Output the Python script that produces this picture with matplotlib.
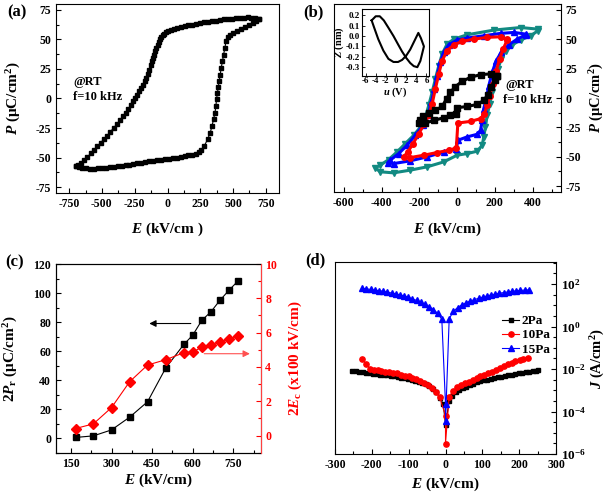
import numpy as np
import matplotlib
matplotlib.use("Agg")
import matplotlib.pyplot as plt
from matplotlib.ticker import MultipleLocator, FixedLocator, NullFormatter

plt.rcParams['font.family'] = ['Liberation Serif', 'DejaVu Serif']
plt.rcParams['font.weight'] = 'bold'
plt.rcParams['axes.labelweight'] = 'bold'
plt.rcParams['mathtext.fontset'] = 'custom'
plt.rcParams['mathtext.rm'] = 'Liberation Serif:bold'
plt.rcParams['mathtext.it'] = 'Liberation Serif:italic:bold'
plt.rcParams['mathtext.bf'] = 'Liberation Serif:bold'
plt.rcParams['axes.linewidth'] = 0.8
plt.rcParams['axes.unicode_minus'] = False

# ---- (a) P-E loop ----
a_up_E = [698, 670, 640, 610, 580, 550, 520, 490, 460, 430, 400, 370, 340, 310, 280, 250, 220, 190,
          160, 130, 100, 75, 50, 25, 5, -12, -25, -36, -48, -58, -66, -75, -85, -96, -105, -112, -118,
          -127, -138, -150, -163, -175, -188, -200, -214, -230, -245, -262, -280, -300, -320, -340,
          -362, -385, -410, -435, -460, -485, -510, -535, -560, -585, -610, -635, -660, -680, -695]
a_up_P = [67.0, 68.0, 68.5, 68.6, 68.5, 68.3, 68.0, 67.7, 67.3, 66.9, 66.5, 66.0, 65.5, 65.0, 64.4,
          63.8, 63.2, 62.6, 61.9, 61.2, 60.5, 59.8, 59.2, 58.3, 57.2, 56.0, 55.0, 54.0, 52.0, 50.0,
          48.0, 45.5, 42.7, 39.8, 37.0, 34.2, 31.4, 28.0, 24.4, 21.0, 17.4, 14.5, 11.7, 9.0, 6.1, 3.0,
          0.5, -2.5, -5.8, -9.0, -12.0, -15.0, -18.5, -21.5, -25.0, -28.0, -31.5, -34.5, -37.5, -40.5,
          -43.5, -46.5, -49.5, -52.0, -54.5, -56.2, -57.5]
a_lo_E = [-695, -675, -650, -620, -590, -560, -530, -500, -470, -440, -410, -380, -350, -320, -290,
          -260, -230, -200, -170, -140, -110, -80, -50, -20, 10, 40, 70, 100, 130, 160, 190, 215, 238,
          255, 280, 306, 326, 339, 351, 362, 369, 374, 381, 387, 394, 402, 409, 419, 427, 438, 445,
          458, 475, 500, 530, 560, 590, 620, 650, 675, 698]
a_lo_P = [-57.5, -58.3, -58.8, -59.1, -59.3, -59.3, -59.1, -58.9, -58.6, -58.2, -57.9, -57.5, -57.1,
          -56.6, -56.1, -55.5, -55.0, -54.4, -53.8, -53.2, -52.6, -52.1, -51.7, -51.4, -51.1, -50.6,
          -50.0, -49.4, -48.8, -48.2, -47.6, -46.8, -45.5, -44.0, -40.2, -34.5, -28.9, -23.3, -17.7,
          -12.0, -6.5, -0.3, 4.8, 9.8, 14.6, 20.2, 25.8, 31.4, 37.0, 42.7, 48.3, 51.8, 54.0, 55.4,
          57.0, 58.6, 60.4, 62.2, 64.0, 65.5, 67.0]

# ---- (b) P-E loops at several fields ----
teal_E = [428, 336, 195, 53, -17, -53, -79, -97, -115, -132, -150, -168, -194, -230, -274, -318,
          -362, -407, -433, -407, -336, -248, -159, -71, 0, 53, 106, 133, 141, 150, 159, 173, 186,
          200, 216, 234, 257, 292, 336, 389, 428]
teal_P = [58.6, 60.0, 57.8, 53.8, 50.1, 45.9, 37.4, 27.5, 16.2, 4.9, -6.3, -16.2, -24.7, -31.8,
          -38.8, -45.9, -52.4, -57.2, -59.4, -62.8, -63.7, -61.4, -58.6, -54.4, -48.7, -47.3, -45.3,
          -40.2, -33.1, -24.7, -14.8, -4.9, 5.0, 14.9, 24.8, 33.2, 40.3, 45.3, 49.3, 53.0, 57.2]
blue_E = [363, 301, 230, 142, 53, 0, -44, -71, -88, -106, -120, -136, -154, -180, -221, -265, -309,
          -354, -368, -336, -248, -159, -71, -4, 4, 53, 106, 124, 133, 141, 154, 168, 186, 207, 234,
          274, 318, 363]
blue_P = [54.4, 55.8, 55.0, 53.0, 51.0, 49.3, 45.3, 39.0, 30.4, 19.1, 7.8, -3.4, -14.8, -23.2,
          -31.7, -40.2, -47.3, -52.9, -55.2, -55.8, -53.5, -50.1, -45.9, -43.1, -36.0, -33.1, -30.9,
          -27.5, -19.0, -9.1, -0.7, 10.6, 21.9, 31.8, 38.9, 45.3, 50.1, 53.8]
red_E = [265, 230, 159, 88, 27, -17, -53, -79, -97, -115, -132, -150, -173, -203, -233, -261, -283,
         -248, -177, -106, -44, -4, 4, 71, 124, 145, 159, 173, 189, 207, 225, 244, 265]
red_P = [50.1, 52.1, 51.6, 50.1, 48.2, 45.3, 40.3, 31.8, 20.5, 7.8, -4.9, -14.8, -21.9, -30.4,
         -38.8, -45.9, -50.1, -50.7, -48.7, -46.4, -44.5, -42.5, -21.3, -19.9, -17.6, -13.4, -6.3,
         2.1, 12.0, 23.3, 33.2, 41.7, 49.3]
black_E = [212, 177, 124, 71, 27, -9, -35, -56, -79, -115, -150, -180, -198, -201, -168, -124, -71,
           -35, -7, 0, 53, 106, 141, 163, 180, 198, 212]
black_P = [19.1, 20.5, 19.9, 17.6, 14.2, 9.7, 4.9, -0.7, -7.2, -10.6, -12.8, -15.7, -19.1, -21.3,
           -21.3, -19.1, -16.8, -14.8, -13.4, -8.3, -7.2, -5.5, -2.1, 2.9, 9.2, 14.9, 19.1]

# inset Z-u loop
ins_u = [-4.8, -4.0, -3.2, -2.4, -1.5, -0.5, 0.4, 1.2, 2.0, 2.8, 3.5, 4.2, 4.8, 5.5, 4.9, 4.4, 3.6,
         2.8, 2.0, 1.2, 0.4, -0.5, -1.5, -2.5, -3.5, -4.3, -4.8]
ins_Z = [0.15, 0.19, 0.19, 0.15, 0.08, 0.0, -0.08, -0.15, -0.21, -0.26, -0.29, -0.30, -0.24, -0.10,
         -0.02, 0.03, -0.05, -0.13, -0.19, -0.23, -0.25, -0.25, -0.22, -0.14, -0.03, 0.08, 0.15]

# ---- (c) 2Pr and 2Ec vs E ----
c_E = [167, 233, 300, 367, 433, 500, 567, 600, 633, 667, 700, 733, 767]
c_2Pr = [0.5, 1.6, 5.7, 14.5, 25.1, 48.3, 64.6, 71.0, 81.1, 87.1, 94.9, 101.8, 108.3]
c_2Ec = [0.41, 0.68, 1.63, 3.14, 4.11, 4.42, 4.83, 4.88, 5.14, 5.29, 5.48, 5.62, 5.78]

# ---- (d) J-E ----
d_blue_E = [-226, -215, -203, -192, -180, -169, -158, -146, -135, -124, -112, -101, -90, -78, -67,
            -56, -44, -33, -21, -10, 0, 0, 10, 21, 33, 44, 56, 67, 78, 90, 101, 112, 124, 135, 146,
            158, 169, 180, 192, 203, 215, 227]
d_blue_J = [63, 60, 56, 52, 49, 46, 42, 38, 35, 31, 28, 24, 20, 17, 14, 11, 8.5, 6.3, 4.2, 2.2,
            2.2e-4, 3.4e-5, 2.3, 5.2, 7.9, 10.5, 13.2, 15.8, 18.6, 21.4, 24.5, 27.5, 30.9, 33.9,
            37.2, 39.8, 42.7, 45.7, 47.9, 50.1, 52.5, 53.7]
d_red_E = [-226, -216, -205, -195, -184, -174, -163, -153, -142, -132, -121, -111, -100, -90, -79,
           -69, -58, -48, -37, -27, -16, 0, 0, 10, 21, 32, 42, 53, 64, 74, 85, 95, 105, 116, 127,
           137, 148, 159, 169, 180, 190, 201, 211, 225]
d_red_J = [2.9e-2, 1.8e-2, 1.05e-2, 9.3e-3, 8.7e-3, 8.1e-3, 7.6e-3, 7.1e-3, 6.6e-3, 6.2e-3,
           5.5e-3, 4.9e-3, 4.5e-3, 4.0e-3, 3.3e-3, 2.75e-3, 2.2e-3, 1.75e-3, 1.25e-3, 8.5e-4,
           4.7e-4, 6.5e-5, 3.1e-6, 5.0e-4, 9.5e-4, 1.45e-3, 1.8e-3, 2.25e-3, 2.55e-3, 2.95e-3,
           3.7e-3, 4.5e-3, 5.1e-3, 6.2e-3, 7.6e-3, 9.3e-3, 1.17e-2, 1.4e-2, 1.66e-2, 2.0e-2,
           2.4e-2, 2.6e-2, 2.95e-2, 3.4e-2]
d_black_E = [-253, -243, -234, -224, -215, -205, -196, -186, -177, -167, -158, -148, -139, -129,
             -120, -110, -101, -91, -82, -72, -63, -53, -44, -34, -25, -15, -6, 0, 10, 19, 29, 38,
             48, 57, 67, 76, 86, 95, 105, 114, 124, 133, 143, 152, 162, 171, 181, 190, 200, 209,
             219, 228, 238, 247, 252]
d_black_J = [8.1e-3, 7.7e-3, 7.4e-3, 7.0e-3, 6.7e-3, 6.4e-3, 6.1e-3, 5.8e-3, 5.5e-3, 5.2e-3,
             5.0e-3, 4.7e-3, 4.5e-3, 4.2e-3, 3.9e-3, 3.7e-3, 3.4e-3, 3.1e-3, 2.8e-3, 2.5e-3,
             2.2e-3, 1.9e-3, 1.55e-3, 1.2e-3, 8.5e-4, 4.5e-4, 2.2e-4, 2.4e-5, 3.2e-4, 5.5e-4,
             7.9e-4, 1.0e-3, 1.25e-3, 1.5e-3, 1.75e-3, 2.05e-3, 2.35e-3, 2.6e-3, 2.9e-3, 3.2e-3,
             3.5e-3, 3.8e-3, 4.1e-3, 4.4e-3, 4.8e-3, 5.1e-3, 5.4e-3, 5.8e-3, 6.2e-3, 6.6e-3,
             7.0e-3, 7.4e-3, 7.9e-3, 8.3e-3, 8.7e-3]

TEAL = '#128a82'
tick_fs = 8.5
lab_fs = 11

fig = plt.figure(figsize=(6.09, 4.94), dpi=100)


def style_ax(ax, fs=tick_fs):
    ax.tick_params(which='both', direction='in', labelsize=fs, width=0.8)
    ax.tick_params(which='major', length=3.5)
    ax.tick_params(which='minor', length=2)


def bold_ticks(ax):
    for lab in ax.get_xticklabels() + ax.get_yticklabels():
        lab.set_fontweight('bold')


# (a)
axa = fig.add_axes([56/609, 1-193/494, 223/609, 189/494])
axa.plot(a_up_E, a_up_P, 's-', color='k', ms=3.2, lw=0.8)
axa.plot(a_lo_E, a_lo_P, 's-', color='k', ms=3.2, lw=0.8)
axa.set_xlim(-850, 850)
axa.set_ylim(-80, 80)
axa.xaxis.set_major_locator(FixedLocator([-750, -500, -250, 0, 250, 500, 750]))
axa.xaxis.set_minor_locator(MultipleLocator(125))
axa.yaxis.set_major_locator(MultipleLocator(25))
axa.yaxis.set_minor_locator(MultipleLocator(12.5))
style_ax(axa)
axa.set_xlabel(r"$\mathit{E}$ (kV/cm )", fontsize=lab_fs)
axa.set_ylabel(r"$\mathit{P}$ (μC/cm$^{2}$)", fontsize=lab_fs)
axa.xaxis.set_label_coords(0.5, -0.145)
axa.yaxis.set_label_coords(-0.15, 0.5)
axa.text(0.076, 0.587, "@RT", transform=axa.transAxes, fontsize=9, va='center')
axa.text(0.076, 0.508, "f=10 kHz", transform=axa.transAxes, fontsize=9, va='center')

# (b)
axb = fig.add_axes([334.3/609, 1-192/494, 226.7/609, 188/494])
axb.plot(teal_E, teal_P, 'v-', color=TEAL, ms=4, lw=2.2)
axb.plot(blue_E, blue_P, '^-', color='#0000ff', ms=4, lw=2.2)
axb.plot(red_E, red_P, 'o-', color='#ff0000', ms=4, lw=2.2)
axb.plot(black_E, black_P, 's-', color='k', ms=4, lw=2.2)
axb.set_xlim(-650, 550)
axb.set_ylim(-80, 80)
axb.xaxis.set_major_locator(MultipleLocator(200))
axb.xaxis.set_minor_locator(MultipleLocator(100))
axb.yaxis.set_major_locator(MultipleLocator(25))
axb.yaxis.set_minor_locator(MultipleLocator(12.5))
axb.yaxis.tick_right()
axb.yaxis.set_label_position('right')
style_ax(axb)
axb.set_xlabel(r"$\mathit{E}$ (kV/cm)", fontsize=lab_fs)
axb.set_ylabel(r"$\mathit{P}$ (μC/cm$^{2}$)", fontsize=10.5, rotation=90)
axb.xaxis.set_label_coords(0.5, -0.15)
axb.yaxis.set_label_coords(1.12, 0.5)
axb.text(0.753, 0.569, "@RT", transform=axb.transAxes, fontsize=9, va='center')
axb.text(0.744, 0.489, "f=10 kHz", transform=axb.transAxes, fontsize=9, va='center')

axi = fig.add_axes([361.5/609, 1-76/494, 67.5/609, 67/494])
axi.plot(ins_u, ins_Z, '-', color='k', lw=1.5)
axi.set_xlim(-6.8, 6.5)
axi.set_ylim(-0.385, 0.26)
axi.tick_params(direction='in', labelsize=6.5, length=2, width=0.6, pad=1)
axi.set_yticks([-0.3, -0.2, -0.1, 0.0, 0.1, 0.2])
axi.set_yticklabels(["-0.3", "-0.2", "-0.1", "0.0", "0.1", "0.2"])
axi.set_xticks([-6, -4, -2, 0, 2, 4, 6])
axi.set_xticklabels(["-6", "-4", "-2", "0", "2", "4", "6"])
axi.set_xlabel(r"$\mathit{u}$ (V)", fontsize=7.5, labelpad=0)
axi.set_ylabel(r"$\mathit{Z}$ (nm)", fontsize=7.5, labelpad=0)

# (c)
axc = fig.add_axes([56/609, 1-452.7/494, 204.5/609, 188.7/494])
axc.plot(c_E, c_2Pr, 's-', color='k', ms=5, lw=0.8)
axc.set_xlim(95, 850)
axc.set_ylim(-10, 120)
axc.xaxis.set_major_locator(FixedLocator([150, 300, 450, 600, 750]))
axc.xaxis.set_minor_locator(FixedLocator([225, 375, 525, 675, 825]))
axc.yaxis.set_major_locator(MultipleLocator(20))
axc.yaxis.set_minor_locator(MultipleLocator(10))
style_ax(axc)
axc.set_xlabel(r"$\mathit{E}$ (kV/cm)", fontsize=lab_fs)
axc.set_ylabel(r"2$\mathit{P}_{\mathrm{r}}$ (μC/cm$^{2}$)", fontsize=lab_fs)
axc.xaxis.set_label_coords(0.5, -0.1)
axc.yaxis.set_label_coords(-0.175, 0.5)
axc.annotate("", xy=(429, 79), xytext=(603, 79),
             arrowprops=dict(arrowstyle='-|>', color='k', lw=0.8, mutation_scale=10))
axc2 = axc.twinx()
axc2.plot(c_E, c_2Ec, 'D-', color='#ff0000', ms=5, lw=0.8, mec='#ff0000')
axc2.set_ylim(-1, 10)
axc2.yaxis.set_major_locator(MultipleLocator(2))
axc2.yaxis.set_minor_locator(MultipleLocator(1))
axc2.tick_params(which='both', direction='in', labelsize=tick_fs, colors='#ff0000', width=0.8)
axc2.tick_params(which='major', length=3.5)
axc2.tick_params(which='minor', length=2)
axc2.spines['right'].set_color('#ff4040')
axc2.set_ylabel(r"2$\mathit{E}_{\mathrm{c}}$ (x100 kV/cm)", fontsize=lab_fs, color='#ff0000')
axc2.yaxis.set_label_coords(1.13, 0.5)
axc2.annotate("", xy=(821, 4.77), xytext=(632, 4.77),
              arrowprops=dict(arrowstyle='-|>', color='#ff5050', lw=0.8, mutation_scale=10))

# (d)
axd = fig.add_axes([335/609, 1-454/494, 221/609, 192/494])
axd.plot(d_black_E, d_black_J, 's-', color='k', ms=3.5, lw=0.8, label='2Pa')
axd.plot(d_red_E, d_red_J, 'o-', color='#ff0000', ms=3.8, lw=0.8, label='10Pa')
axd.plot(d_blue_E, d_blue_J, '^-', color='#0000ff', ms=4, lw=0.8, label='15Pa')
axd.set_yscale('log')
axd.set_xlim(-300, 300)
axd.set_ylim(1e-6, 1.1e3)
axd.xaxis.set_major_locator(MultipleLocator(100))
axd.xaxis.set_minor_locator(MultipleLocator(50))
axd.yaxis.tick_right()
axd.yaxis.set_label_position('right')
axd.set_yticks([1e-6, 1e-4, 1e-2, 1, 1e2])
axd.set_yticklabels([r"10$^{-6}$", r"10$^{-4}$", r"10$^{-2}$", r"10$^{0}$", r"10$^{2}$"])
axd.yaxis.set_minor_locator(FixedLocator([10**(k/2) for k in range(-12, 7)]))
axd.yaxis.set_minor_formatter(NullFormatter())
style_ax(axd)
axd.tick_params(axis='y', labelsize=9.5)
axd.set_xlabel(r"$\mathit{E}$ (kV/cm)", fontsize=lab_fs)
axd.set_ylabel(r"$\mathit{J}$ (A/cm$^{2}$)", fontsize=10.5, rotation=90)
axd.xaxis.set_label_coords(0.5, -0.115)
axd.yaxis.set_label_coords(1.15, 0.5)
leg = axd.legend(loc='upper left', bbox_to_anchor=(0.72, 0.765), frameon=False, fontsize=9.5,
                 handlelength=1.3, handletextpad=0.2, labelspacing=0.15, borderpad=0.1)
for t in leg.get_texts():
    t.set_fontweight('bold')

for ax in (axa, axb, axi, axc, axc2, axd):
    bold_ticks(ax)

fig.text(7/609, 1-12/494, "(a)", fontsize=12, va='center')
fig.text(303/609, 1-12/494, "(b)", fontsize=12, va='center')
fig.text(5/609, 1-262/494, "(c)", fontsize=12, va='center')
fig.text(305/609, 1-260/494, "(d)", fontsize=12, va='center')

fig.savefig("out.png", dpi=100)
